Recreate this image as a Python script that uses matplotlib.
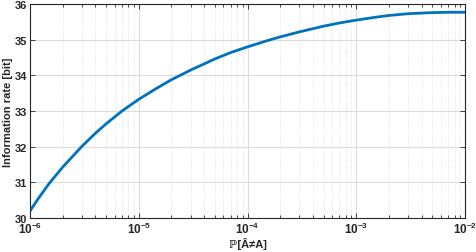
import matplotlib
matplotlib.use("Agg")
import matplotlib.pyplot as plt
import numpy as np
from matplotlib.ticker import LogLocator, NullFormatter

plt.rcParams['font.family'] = ['Liberation Sans', 'DejaVu Sans']
plt.rcParams['font.weight'] = 'bold'
plt.rcParams['mathtext.fontset'] = 'custom'
plt.rcParams['mathtext.rm'] = 'Liberation Sans:bold'
plt.rcParams['mathtext.bf'] = 'Liberation Sans:bold'
plt.rcParams['mathtext.default'] = 'bf'

p_err = [1e-6, 1.2e-6, 1.5e-6, 2e-6, 3e-6, 4e-6, 5e-6, 7e-6, 1e-5, 1.5e-5,
         2e-5, 3e-5, 5e-5, 7e-5, 1e-4, 1.5e-4, 2e-4, 3e-4, 5e-4, 7e-4,
         1e-3, 1.5e-3, 2e-3, 3e-3, 5e-3, 7e-3, 1e-2]
rate = [30.2, 30.56, 30.97, 31.43, 32.01, 32.38, 32.64, 33.0, 33.33, 33.66,
        33.88, 34.15, 34.46, 34.64, 34.8, 34.97, 35.08, 35.22, 35.38, 35.47,
        35.55, 35.63, 35.68, 35.73, 35.76, 35.77, 35.77]
yticks = [30, 31, 32, 33, 34, 35, 36]
xticks = [1e-6, 1e-5, 1e-4, 1e-3, 1e-2]
xticklabels = [r'$\mathbf{10^{-6}}$', r'$\mathbf{10^{-5}}$', r'$\mathbf{10^{-4}}$',
               r'$\mathbf{10^{-3}}$', r'$\mathbf{10^{-2}}$']

fig = plt.figure(figsize=(4.76, 2.53), dpi=100)
ax = fig.add_axes([0.063, 0.134, 0.914, 0.846])
ax.plot(p_err, rate, color='#0072BD', lw=2.0, solid_joinstyle='round')
ax.set_xscale('log')
ax.set_xlim(1e-6, 1e-2)
ax.set_ylim(30, 36)
ax.set_xticks(xticks)
ax.set_xticklabels(xticklabels)
ax.xaxis.set_minor_locator(LogLocator(base=10, subs=np.arange(2, 10), numticks=20))
ax.xaxis.set_minor_formatter(NullFormatter())
ax.set_yticks(yticks)
ax.set_yticklabels([str(v) for v in yticks])

ax.grid(True, which='major', color='#dcdcdc', lw=0.8, ls='-')
ax.grid(True, which='minor', axis='x', color='#dcdcdc', lw=0.6, ls=':')
ax.set_axisbelow(True)

ax.tick_params(which='both', direction='in', top=True, right=True,
               colors='#262626', width=0.6)
ax.tick_params(axis='y', labelsize=8, pad=2)
ax.tick_params(axis='x', labelsize=8.5, pad=2)
ax.tick_params(which='major', length=3.5)
ax.tick_params(which='minor', length=2)
for s in ax.spines.values():
    s.set_color('#262626')
    s.set_linewidth(0.8)

ax.set_xlabel('ℙ[Â≠A]', fontsize=8, fontweight='bold', color='#262626', labelpad=1)
ax.set_ylabel('Information rate [bit]', fontsize=8, fontweight='bold', color='#262626', labelpad=1)

fig.savefig('out.png', dpi=100)
